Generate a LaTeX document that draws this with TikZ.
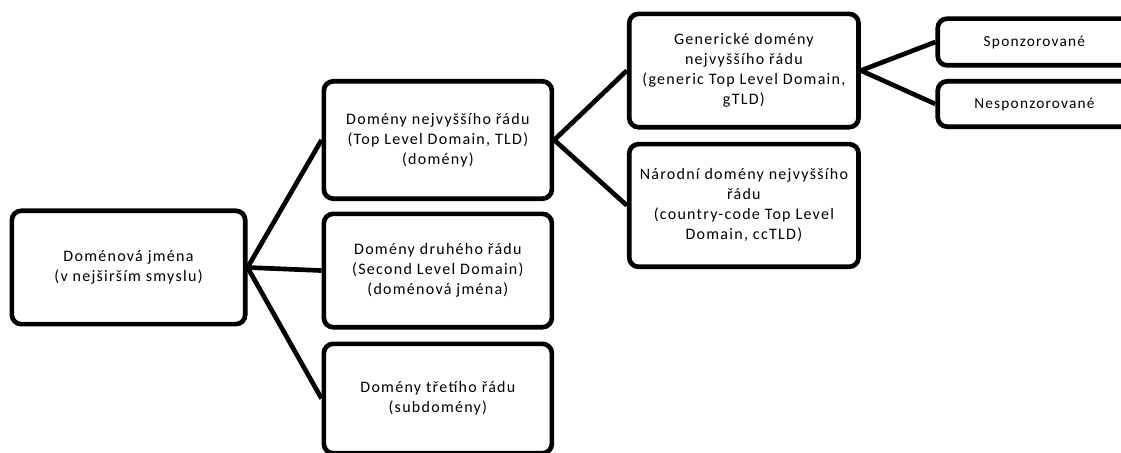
\documentclass[tikz,border=0pt]{standalone}
\usepackage{fontspec}
\setmainfont{Carlito}[LetterSpace=8]
\usepackage{tikz}
\tikzstyle{dombox} = [rectangle, rounded corners=7pt, line width=3.5pt, draw=black, fill=white, text centered, align=center, inner sep=0pt, font=\fontsize{12}{15}\selectfont]
\tikzstyle{wide} = [dombox, minimum width=171pt, minimum height=84pt]
\tikzstyle{leaf} = [dombox, minimum width=145pt, minimum height=33pt, font=\fontsize{11.5}{15}\selectfont]
\tikzstyle{connect} = [line width=3.5pt, -]

\begin{document}
\begin{tikzpicture}[node distance=232pt]
\useasboundingbox (0,0) rectangle (840.75pt,-339.75pt);

\node(root)[wide, minimum width=175pt, minimum height=85pt] at (96.4pt,-200.6pt) {Doménová jména\\(v nejširším smyslu)};
\node(tld)[wide, minimum height=88pt, right of=root, yshift=95.6pt] {Domény nejvyššího řádu\\(Top Level Domain, TLD)\\(domény)};
\node(sld)[wide, minimum height=85pt, right of=root, yshift=-2.3pt] {Domény druhého řádu\\(Second Level Domain)\\(doménová jména)};
\node(sub)[wide, minimum height=82pt, right of=root, yshift=-98.3pt] {Domény třetího řádu\\(subdomény)};
\node(gtld)[wide, minimum width=172pt, minimum height=85pt, right of=tld, xshift=-2.5pt, yshift=52.1pt] {Generické domény\\nejvyššího řádu\\(generic Top Level Domain,\\gTLD)};
\node(cctld)[wide, minimum width=172pt, minimum height=92pt, right of=tld, xshift=-2.5pt, yshift=-49.1pt] {Národní domény nejvyššího\\řádu\\(country-code Top Level\\Domain, ccTLD)};
\node(spons)[leaf, minimum height=35pt, right of=gtld, xshift=-14.1pt, yshift=21.4pt] {Sponzorované};
\node(nespons)[leaf, minimum height=34pt, right of=gtld, xshift=-14.1pt, yshift=-25.1pt] {Nesponzorované};

\draw [connect] (root.east) -- (tld.west);
\draw [connect] (root.east) -- (sld.west);
\draw [connect] (root.east) -- (sub.west);
\draw [connect] (tld.east) -- (gtld.west);
\draw [connect] (tld.east) -- (cctld.west);
\draw [connect] (gtld.east) -- (spons.west);
\draw [connect] (gtld.east) -- (nespons.west);
\end{tikzpicture}
\end{document}
